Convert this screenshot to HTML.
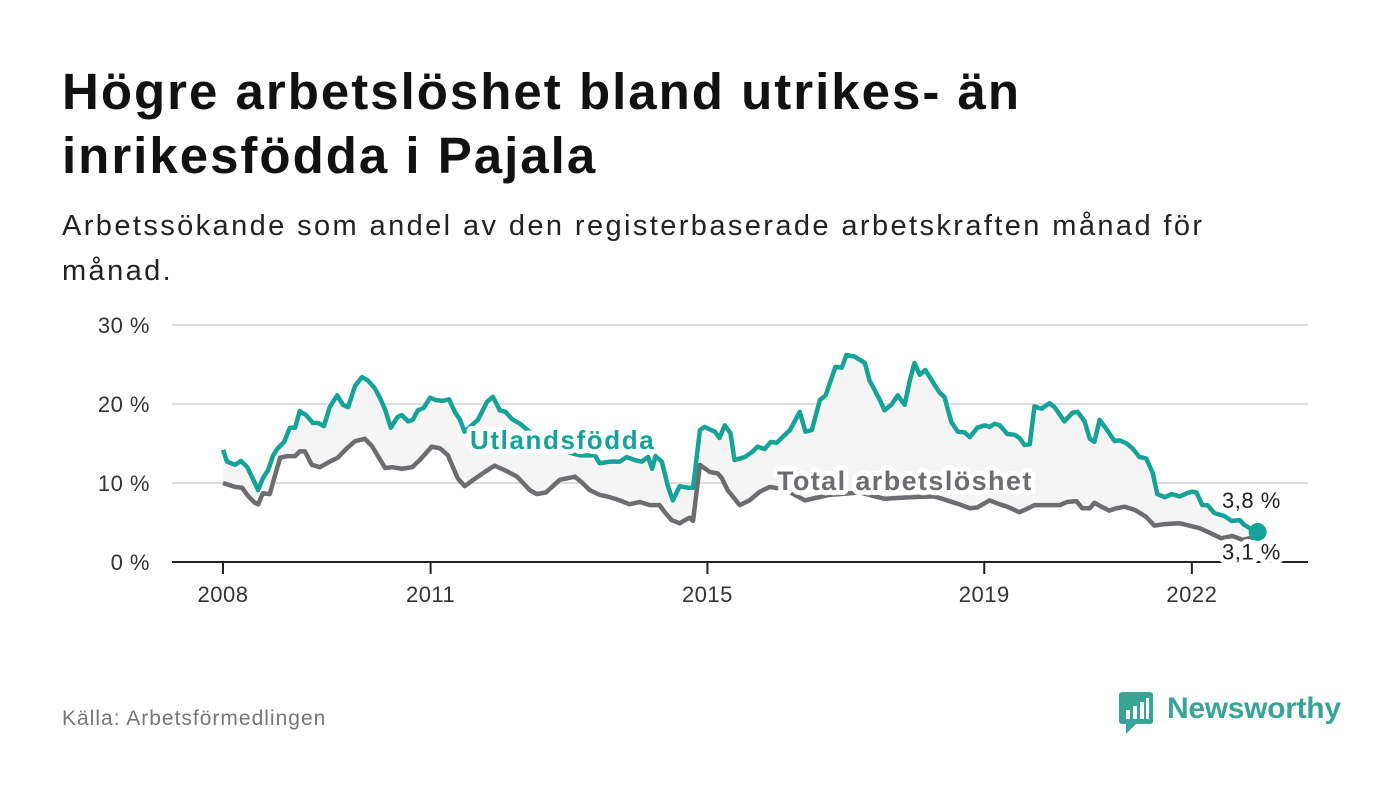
<!DOCTYPE html>
<html><head><meta charset="utf-8"><style>
body{margin:0;background:#fff;font-family:"Liberation Sans",sans-serif;}
#wrap{position:relative;width:1400px;height:794px;overflow:hidden}
h1{position:absolute;left:62px;top:60px;margin:0;font-size:51px;line-height:64px;font-weight:bold;color:#111;letter-spacing:2px}
.sub{position:absolute;left:62px;top:204px;font-size:29px;line-height:45px;color:#222;width:1200px;letter-spacing:2.4px}
.src{position:absolute;left:62px;top:707px;font-size:21px;color:#777;letter-spacing:1px}
</style></head><body>
<div id="wrap">
<h1>Högre arbetslöshet bland utrikes- än<br>inrikesfödda i Pajala</h1>
<div class="sub">Arbetssökande som andel av den registerbaserade arbetskraften månad för månad.</div>
<svg id="chart" width="1400" height="794" style="position:absolute;left:0;top:0"></svg>
<div class="src">Källa: Arbetsförmedlingen</div>
<div style="position:absolute;left:1118px;top:690px;">
<svg width="40" height="46"><rect x="1" y="2" width="34" height="32" rx="3" fill="#3aa398"/><path d="M8 34 L8 44 L18 34Z" fill="#3aa398"/><rect x="8" y="20" width="4" height="9" fill="#fff"/><rect x="15" y="16" width="4" height="13" fill="#fff"/><rect x="22" y="12" width="4" height="17" fill="#fff"/><rect x="28" y="8" width="3" height="21" fill="#fff"/></svg>
<span style="position:absolute;left:49px;top:2px;font-size:30px;font-weight:bold;color:#3aa398;white-space:nowrap;letter-spacing:-0.3px">Newsworthy</span></div>
</div>
<script>
const uMonths=[0,0.7,2.1,3.1,4.2,5,6.1,6.9,7.8,8.7,9.5,10.6,11.6,12.5,13.3,14.4,15.6,16.5,17.5,18.5,19.8,20.8,21.7,22.9,24.1,25.1,26.3,27.2,28.1,29.1,30.2,31,32.1,32.9,33.8,34.8,35.9,36.9,38.1,39.2,40.2,41.1,41.9,44.2,45.8,46.8,48,49,50.1,51.5,54,56.7,59.3,61.9,64.5,65.3,67.1,68.8,70,71.4,72.6,73.7,74.4,75,76.1,77.1,78,79.2,80.6,81.5,82.7,83.5,85.3,86.1,87,88,88.7,90.5,91.7,92.7,93.9,95,96,98.3,100,101,102.1,103.5,104.5,106.2,107.3,108.1,109.5,111.3,112.1,113.9,114.7,115.9,117,118.2,119.1,119.9,120.8,121.8,123.4,124.3,125.1,126.3,127.4,128.6,129.5,130.8,132.1,132.9,133.8,134.7,136,137.3,138.1,139,139.9,140.7,141.9,143.3,144.2,145.9,147.3,148.2,149.4,150.3,151.1,152,153.4,154.6,155.5,156.7,157.7,158.9,160.1,161.2,162,163.3,164.5,165.9,167.1,168,168.8,169.8,170.7,171.9,173.7,174.9,176.3,177.1,178,179.4];
const uValues=[14.2,12.7,12.3,12.8,12,10.8,9.1,10.6,11.6,13.5,14.4,15.2,17,17,19.1,18.6,17.6,17.6,17.2,19.6,21.1,19.9,19.6,22.3,23.4,23,22,20.8,19.3,17,18.3,18.6,17.8,18,19.2,19.5,20.8,20.5,20.4,20.6,19,18,16.5,18,20.3,20.9,19.2,19,18.1,17.5,16,15,14,13.5,13.5,12.5,12.7,12.7,13.3,12.9,12.7,13.3,11.8,13.4,12.7,9.7,7.8,9.6,9.4,9.4,16.7,17.1,16.5,15.7,17.3,16.3,12.9,13.3,13.9,14.6,14.3,15.2,15.1,16.7,19,16.5,16.7,20.5,21.1,24.7,24.6,26.2,26,25.2,23,20.5,19.2,19.9,21.1,19.9,23,25.2,23.7,24.3,22.4,21.4,20.9,17.7,16.5,16.4,15.8,17,17.3,17.1,17.5,17.3,16.2,16.1,15.7,14.8,14.9,19.7,19.4,20.1,19.6,17.8,18.9,19,17.8,15.6,15.2,18,16.6,15.3,15.4,15,14.4,13.3,13.1,11.3,8.6,8.2,8.6,8.3,8.7,8.9,8.8,7.2,7.2,6.2,5.8,5.2,5.3,4.7,4.3,3.8,3.8];
const tMonths=[0,2.1,3.3,4.3,5.5,6.1,6.9,8.1,9.9,11.1,12.5,13.3,14.2,15.4,16.8,18.5,19.9,21.5,22.9,24.6,25.8,28.1,29.3,31,32.8,34.1,36.2,37.6,39,40.7,41.9,43.2,45.4,47.1,49.2,51,53.2,54.4,56,58.4,61,62.2,63.6,65.3,67.1,68.8,70.5,72.3,74,75.7,76.6,77.8,79.2,80.1,80.9,81.5,82.7,84.4,85.8,86.5,87.5,89.6,91.3,93.1,94.8,97.4,100.9,105.2,110.4,114.7,119.1,123.4,127.7,129.5,130.8,132.9,134.7,136,138.1,139.3,140.7,145.1,146.4,148,149,150.3,151.1,152.3,153.7,154.9,156.3,158.1,160.1,161.5,163.3,165.9,167.6,169.3,171.1,173.1,175,176.8,178,179.4];
const tValues=[10,9.5,9.4,8.4,7.5,7.3,8.7,8.6,13.2,13.4,13.4,14,14,12.3,12,12.7,13.2,14.4,15.3,15.6,14.7,11.9,12,11.8,12,12.9,14.6,14.4,13.5,10.6,9.6,10.3,11.4,12.2,11.5,10.8,9.1,8.6,8.8,10.4,10.8,10.1,9.1,8.5,8.2,7.8,7.3,7.6,7.2,7.2,6.3,5.3,4.9,5.3,5.6,5.2,12.3,11.4,11.2,10.6,9.1,7.2,7.8,8.9,9.5,9.2,7.8,8.5,8.8,8,8.2,8.3,7.3,6.8,6.9,7.8,7.3,7,6.3,6.7,7.2,7.2,7.6,7.7,6.8,6.8,7.5,7,6.5,6.8,7,6.6,5.7,4.6,4.8,4.9,4.6,4.3,3.7,3,3.3,2.8,3,3.1];
const yTicks=[0,10,20,30];
const yTickLabels=["0 %","10 %","20 %","30 %"];
const xTickYears=[2008,2011,2015,2019,2022];
const NS="http://www.w3.org/2000/svg",svg=document.getElementById('chart');
const x=m=>223+m*5.767, y=v=>562-v*7.9, xYear=yr=>x((yr-2008)*12);
function mk(t,a,p){const e=document.createElementNS(NS,t);for(const k in a)e.setAttribute(k,a[k]);(p||svg).appendChild(e);return e;}
yTicks.forEach((v,i)=>{
 if(v>0){const g=mk('line',{x1:172,x2:1308,y1:y(v),y2:y(v),stroke:'#ddd','stroke-width':2});
 
 }
 const t=mk('text',{x:150,y:y(v)+8,'text-anchor':'end','font-size':22,fill:'#333','letter-spacing':0.5});t.textContent=yTickLabels[i];
 
 
});
let band='M'+uMonths.map((m,i)=>x(m)+','+y(uValues[i])).join('L');
for(let i=tMonths.length-1;i>=0;i--)band+='L'+x(tMonths[i])+','+y(tValues[i]);
const b=mk('path',{d:band+'Z',fill:'#f5f5f5'});


const base=mk('line',{x1:172,x2:1308,y1:562,y2:562,stroke:'#222','stroke-width':2});


xTickYears.forEach(yr=>{
 const l=mk('line',{x1:xYear(yr),x2:xYear(yr),y1:562,y2:574,stroke:'#222','stroke-width':2});
 
 
 const t=mk('text',{x:xYear(yr),y:602,'text-anchor':'middle','font-size':22,fill:'#333','letter-spacing':0.5});t.textContent=yr;
 
 
});
const tl=mk('path',{d:'M'+tMonths.map((m,i)=>x(m)+','+y(tValues[i])).join('L'),fill:'none',stroke:'#6d6c70','stroke-width':4.5,'stroke-linejoin':'round'});


const ul=mk('path',{d:'M'+uMonths.map((m,i)=>x(m)+','+y(uValues[i])).join('L'),fill:'none',stroke:'#15a297','stroke-width':4.5,'stroke-linejoin':'round'});


function lab(txt,xx,yy,col,name,bold,sz,ls){const t=mk('text',{x:xx,y:yy,'font-size':sz,'font-weight':bold?'bold':'normal',fill:col,stroke:'#fff','stroke-width':10,'paint-order':'stroke','stroke-linejoin':'round','letter-spacing':ls});t.textContent=txt;
 
 }
lab('Utlandsfödda',470,449,'#15a297','utlandsfodda-label',true,26,1.6);
lab('Total arbetslöshet',777,490,'#6d6c70','total-label',true,27,1.4);
const lu=uMonths.length-1;
const dot=mk('circle',{cx:x(uMonths[lu]),cy:y(uValues[lu]),r:9,fill:'#15a297'});


lab(String(uValues[lu]).replace('.',',')+' %',1222,y(uValues[lu])-24,'#222','end-label-utlandsfodda',false,22,0.5);
lab(String(tValues[tValues.length-1]).replace('.',',')+' %',1222,y(tValues[tValues.length-1])+22,'#222','end-label-total',false,22,0.5);
</script>
</body></html>
